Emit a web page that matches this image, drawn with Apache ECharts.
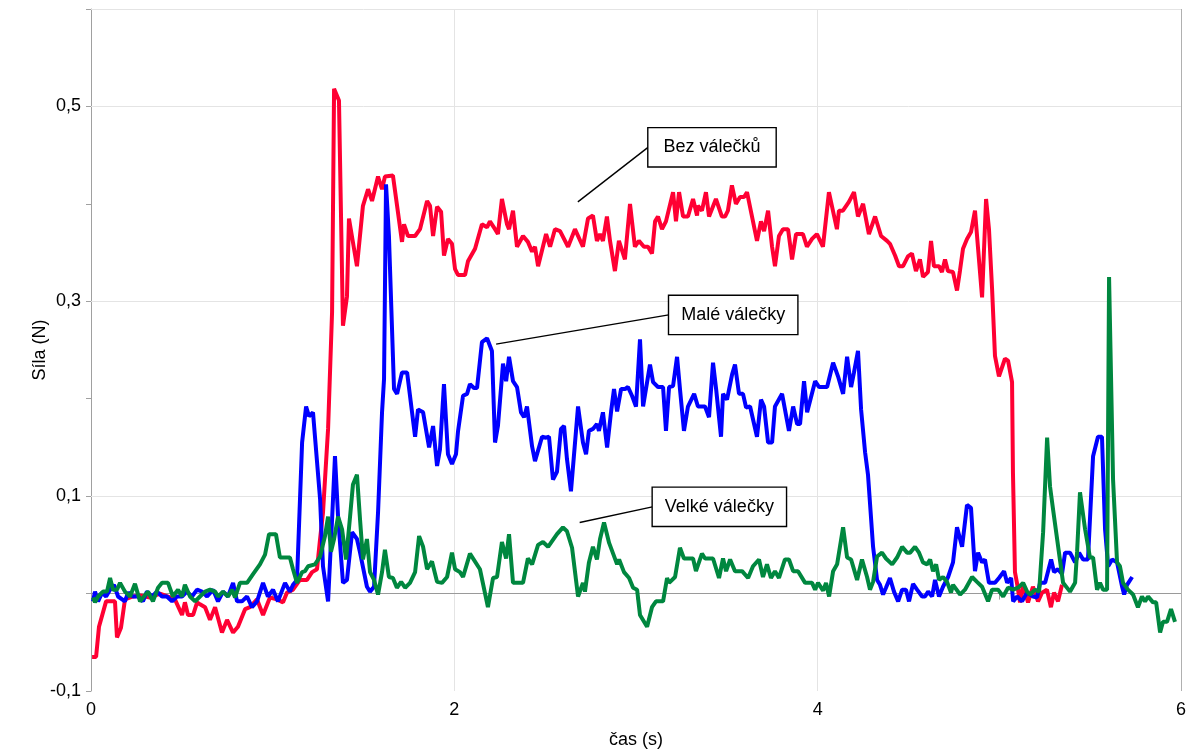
<!DOCTYPE html>
<html>
<head>
<meta charset="utf-8">
<script src="https://cdn.jsdelivr.net/npm/echarts@6/dist/echarts.min.js"></script>
<style>
  html, body { margin: 0; padding: 0; background: #fff; }
  #main { width: 1190px; height: 751px; }
</style>
</head>
<body>
<div id="main"></div>
<script>
// čas (s), síla (N)
var redData = [
  [0.006,-0.065],[0.028,-0.065],[0.044,-0.034],[0.083,-0.008],[0.132,-0.008],[0.143,-0.045],[0.165,-0.035],[0.187,-0.006],
  [0.231,-0.003],[0.270,-0.002],[0.325,-0.004],[0.380,0.000],[0.435,-0.004],[0.462,-0.006],[0.501,-0.022],[0.517,-0.009],
  [0.534,-0.022],[0.562,-0.022],[0.584,-0.009],[0.600,-0.011],[0.628,-0.014],[0.655,-0.027],[0.683,-0.014],[0.721,-0.040],
  [0.749,-0.027],[0.782,-0.040],[0.809,-0.034],[0.848,-0.016],[0.875,-0.014],[0.914,-0.006],[0.947,-0.022],[0.985,-0.004],
  [1.024,-0.006],[1.057,-0.009],[1.079,0.001],[1.112,0.004],[1.150,0.014],[1.189,0.014],[1.217,0.022],[1.244,0.025],
  [1.261,0.056],[1.277,0.083],[1.305,0.169],[1.327,0.289],[1.338,0.518],[1.349,0.520],[1.365,0.506],[1.387,0.275],
  [1.409,0.305],[1.420,0.385],[1.464,0.336],[1.497,0.398],[1.525,0.415],[1.547,0.403],[1.580,0.428],[1.602,0.415],
  [1.618,0.428],[1.662,0.429],[1.712,0.361],[1.723,0.379],[1.745,0.367],[1.784,0.367],[1.811,0.374],[1.850,0.403],
  [1.866,0.398],[1.883,0.367],[1.905,0.397],[1.927,0.392],[1.943,0.347],[1.965,0.364],[1.987,0.359],[2.004,0.333],
  [2.020,0.327],[2.059,0.327],[2.075,0.341],[2.114,0.354],[2.152,0.379],[2.180,0.376],[2.196,0.382],[2.224,0.374],
  [2.240,0.369],[2.262,0.405],[2.290,0.379],[2.301,0.374],[2.323,0.393],[2.345,0.356],[2.378,0.367],[2.405,0.361],
  [2.428,0.351],[2.444,0.356],[2.461,0.336],[2.505,0.369],[2.527,0.356],[2.554,0.374],[2.582,0.372],[2.626,0.356],
  [2.664,0.374],[2.708,0.356],[2.736,0.385],[2.763,0.388],[2.785,0.362],[2.802,0.369],[2.818,0.362],[2.840,0.387],
  [2.857,0.362],[2.884,0.331],[2.906,0.362],[2.939,0.343],[2.967,0.400],[2.994,0.356],[3.016,0.362],[3.044,0.356],
  [3.066,0.356],[3.088,0.349],[3.105,0.382],[3.121,0.387],[3.143,0.374],[3.165,0.382],[3.204,0.412],[3.220,0.382],
  [3.237,0.412],[3.259,0.387],[3.286,0.387],[3.314,0.405],[3.336,0.388],[3.341,0.398],[3.363,0.393],[3.385,0.412],
  [3.402,0.387],[3.440,0.405],[3.473,0.387],[3.490,0.387],[3.506,0.393],[3.528,0.419],[3.550,0.400],[3.573,0.407],
  [3.595,0.407],[3.611,0.412],[3.622,0.412],[3.666,0.362],[3.688,0.382],[3.705,0.372],[3.727,0.393],[3.749,0.356],
  [3.765,0.336],[3.787,0.367],[3.809,0.374],[3.837,0.374],[3.859,0.343],[3.881,0.369],[3.919,0.369],[3.941,0.356],
  [3.969,0.364],[3.996,0.369],[4.029,0.356],[4.062,0.412],[4.106,0.374],[4.117,0.393],[4.139,0.393],[4.172,0.402],
  [4.200,0.412],[4.222,0.387],[4.250,0.400],[4.282,0.369],[4.316,0.387],[4.349,0.367],[4.382,0.362],[4.398,0.359],
  [4.426,0.347],[4.448,0.336],[4.470,0.336],[4.497,0.346],[4.519,0.349],[4.541,0.331],[4.563,0.343],[4.580,0.325],
  [4.607,0.330],[4.624,0.362],[4.640,0.336],[4.668,0.336],[4.684,0.330],[4.701,0.343],[4.717,0.331],[4.745,0.330],
  [4.767,0.311],[4.783,0.331],[4.800,0.354],[4.822,0.364],[4.844,0.371],[4.866,0.393],[4.883,0.354],[4.905,0.304],
  [4.927,0.405],[4.943,0.374],[4.960,0.313],[4.976,0.244],[4.998,0.223],[5.031,0.241],[5.048,0.239],[5.070,0.217],
  [5.075,0.124],[5.086,0.022],[5.097,0.011],[5.114,-0.009],[5.130,0.009],[5.158,-0.009],[5.185,0.007],[5.213,-0.008],
  [5.235,0.001],[5.262,0.004],[5.284,-0.014],[5.301,0.001],[5.323,-0.008],[5.345,0.009]
];

var blueData = [
  [0.011,-0.008],[0.022,0.002],[0.039,-0.008],[0.061,0.001],[0.083,-0.003],[0.105,0.004],[0.127,0.009],[0.149,-0.003],
  [0.187,-0.008],[0.204,0.001],[0.231,-0.003],[0.259,-0.003],[0.286,-0.008],[0.308,0.002],[0.336,-0.003],[0.363,0.002],
  [0.391,-0.003],[0.418,-0.003],[0.446,-0.008],[0.473,-0.003],[0.501,-0.003],[0.528,0.002],[0.556,-0.003],[0.584,0.004],
  [0.611,0.002],[0.639,-0.003],[0.672,0.004],[0.699,-0.008],[0.727,0.002],[0.754,-0.003],[0.782,0.011],[0.804,-0.008],
  [0.831,-0.008],[0.859,-0.003],[0.886,-0.014],[0.914,-0.008],[0.947,0.011],[0.974,-0.003],[1.002,0.004],[1.029,-0.008],
  [1.068,0.011],[1.095,0.002],[1.112,0.009],[1.134,0.014],[1.162,0.155],[1.184,0.192],[1.200,0.182],[1.222,0.186],
  [1.261,0.097],[1.277,0.028],[1.305,-0.008],[1.327,0.076],[1.343,0.141],[1.360,0.079],[1.387,0.011],[1.409,0.014],
  [1.437,0.063],[1.464,0.056],[1.481,0.042],[1.519,0.007],[1.536,0.002],[1.558,0.007],[1.580,0.083],[1.602,0.186],
  [1.613,0.220],[1.624,0.420],[1.640,0.367],[1.668,0.210],[1.685,0.205],[1.712,0.227],[1.740,0.227],[1.784,0.161],
  [1.800,0.189],[1.828,0.186],[1.861,0.150],[1.883,0.172],[1.905,0.131],[1.921,0.148],[1.943,0.215],[1.965,0.143],
  [1.987,0.133],[2.009,0.143],[2.020,0.166],[2.048,0.203],[2.070,0.205],[2.086,0.215],[2.108,0.211],[2.125,0.211],
  [2.152,0.258],[2.180,0.262],[2.207,0.249],[2.224,0.155],[2.240,0.172],[2.268,0.236],[2.285,0.218],[2.301,0.243],
  [2.323,0.218],[2.345,0.212],[2.367,0.186],[2.384,0.181],[2.400,0.192],[2.428,0.151],[2.444,0.136],[2.483,0.161],
  [2.505,0.160],[2.521,0.161],[2.543,0.117],[2.565,0.125],[2.587,0.169],[2.604,0.172],[2.620,0.138],[2.642,0.105],
  [2.653,0.107],[2.681,0.192],[2.708,0.155],[2.725,0.143],[2.741,0.167],[2.763,0.169],[2.785,0.174],[2.796,0.167],
  [2.818,0.186],[2.841,0.150],[2.863,0.187],[2.879,0.210],[2.896,0.187],[2.918,0.210],[2.940,0.210],[2.956,0.212],
  [2.978,0.203],[3.000,0.192],[3.022,0.261],[3.039,0.192],[3.077,0.235],[3.094,0.217],[3.121,0.212],[3.149,0.212],
  [3.165,0.167],[3.182,0.212],[3.204,0.213],[3.226,0.243],[3.242,0.210],[3.264,0.167],[3.286,0.192],[3.320,0.205],
  [3.341,0.192],[3.380,0.192],[3.402,0.181],[3.424,0.237],[3.441,0.210],[3.468,0.161],[3.479,0.205],[3.501,0.199],
  [3.529,0.225],[3.545,0.235],[3.567,0.205],[3.589,0.205],[3.606,0.191],[3.628,0.192],[3.666,0.161],[3.688,0.199],
  [3.705,0.192],[3.727,0.155],[3.749,0.155],[3.765,0.192],[3.776,0.194],[3.804,0.205],[3.842,0.167],[3.865,0.192],
  [3.887,0.174],[3.903,0.174],[3.925,0.218],[3.942,0.186],[3.986,0.218],[4.008,0.212],[4.052,0.212],[4.085,0.237],
  [4.112,0.223],[4.140,0.205],[4.162,0.243],[4.184,0.212],[4.200,0.227],[4.222,0.249],[4.239,0.189],[4.261,0.145],
  [4.277,0.122],[4.305,0.048],[4.327,0.014],[4.343,0.009],[4.360,-0.001],[4.376,0.006],[4.398,0.016],[4.420,0.002],
  [4.443,-0.008],[4.465,0.004],[4.486,0.004],[4.503,-0.008],[4.525,0.010],[4.547,0.004],[4.575,-0.003],[4.591,-0.003],
  [4.608,0.002],[4.630,-0.003],[4.646,0.014],[4.668,-0.003],[4.690,0.007],[4.718,0.017],[4.745,0.032],[4.767,0.068],
  [4.795,0.048],[4.822,0.091],[4.844,0.088],[4.866,0.023],[4.883,0.042],[4.905,0.032],[4.921,0.035],[4.943,0.011],
  [4.976,0.011],[4.998,0.016],[5.026,0.023],[5.043,0.011],[5.065,0.016],[5.076,-0.008],[5.098,-0.003],[5.125,-0.008],
  [5.153,0.001],[5.186,-0.003],[5.208,-0.004],[5.224,0.011],[5.252,0.011],[5.285,0.035],[5.301,0.022],[5.323,0.025],
  [5.345,0.020],[5.362,0.042],[5.389,0.042],[5.417,0.032],[5.439,0.042],[5.461,0.035],[5.488,0.035],[5.516,0.141],
  [5.543,0.161],[5.565,0.161],[5.582,0.066],[5.599,0.028],[5.621,0.035],[5.648,0.032],[5.676,0.007],[5.687,-0.001],
  [5.703,0.009],[5.731,0.017]
];

var greenData = [
  [0.011,-0.004],[0.022,-0.009],[0.039,-0.003],[0.066,0.002],[0.088,0.002],[0.105,0.016],[0.121,0.004],[0.143,0.004],
  [0.160,0.011],[0.187,0.002],[0.215,-0.003],[0.242,0.010],[0.270,-0.008],[0.292,-0.003],[0.314,0.002],[0.341,-0.008],
  [0.369,0.006],[0.391,0.011],[0.424,0.011],[0.451,-0.003],[0.479,0.004],[0.501,-0.003],[0.517,0.009],[0.545,-0.003],
  [0.573,-0.008],[0.600,-0.003],[0.628,0.002],[0.655,0.004],[0.683,0.002],[0.699,-0.003],[0.727,0.002],[0.754,-0.003],
  [0.776,0.004],[0.793,-0.004],[0.820,0.011],[0.859,0.011],[0.892,0.020],[0.930,0.030],[0.958,0.040],[0.980,0.061],
  [1.018,0.061],[1.040,0.037],[1.095,0.037],[1.112,0.025],[1.134,0.011],[1.162,0.022],[1.178,0.023],[1.195,0.028],
  [1.233,0.030],[1.261,0.038],[1.288,0.059],[1.305,0.079],[1.321,0.043],[1.338,0.056],[1.360,0.079],[1.382,0.066],
  [1.404,0.035],[1.426,0.079],[1.442,0.112],[1.464,0.122],[1.481,0.076],[1.497,0.035],[1.519,0.056],[1.536,0.022],
  [1.558,0.014],[1.580,-0.001],[1.602,0.022],[1.618,0.045],[1.640,0.017],[1.662,0.016],[1.684,0.006],[1.707,0.012],
  [1.729,0.006],[1.756,0.011],[1.784,0.022],[1.806,0.059],[1.828,0.048],[1.850,0.025],[1.877,0.033],[1.905,0.012],
  [1.932,0.011],[1.960,0.017],[1.987,0.042],[2.004,0.025],[2.031,0.022],[2.048,0.017],[2.086,0.041],[2.141,0.025],
  [2.185,-0.014],[2.213,0.016],[2.235,0.017],[2.262,0.053],[2.285,0.036],[2.301,0.061],[2.323,0.011],[2.378,0.011],
  [2.405,0.036],[2.428,0.030],[2.461,0.050],[2.488,0.053],[2.516,0.048],[2.565,0.061],[2.598,0.068],[2.620,0.064],
  [2.648,0.047],[2.681,-0.003],[2.708,0.011],[2.719,0.002],[2.741,0.032],[2.763,0.048],[2.785,0.035],[2.802,0.056],
  [2.824,0.073],[2.852,0.052],[2.896,0.030],[2.907,0.035],[2.934,0.022],[2.962,0.016],[2.984,0.006],[3.006,0.004],
  [3.022,-0.022],[3.061,-0.034],[3.088,-0.014],[3.110,-0.008],[3.149,-0.008],[3.171,0.016],[3.182,0.011],[3.215,0.017],
  [3.242,0.047],[3.264,0.036],[3.314,0.036],[3.330,0.023],[3.363,0.041],[3.380,0.036],[3.424,0.036],[3.457,0.016],
  [3.479,0.036],[3.496,0.023],[3.518,0.035],[3.545,0.023],[3.584,0.023],[3.617,0.016],[3.644,0.028],[3.677,0.035],
  [3.699,0.017],[3.721,0.030],[3.743,0.016],[3.765,0.023],[3.787,0.016],[3.820,0.035],[3.842,0.035],[3.865,0.023],
  [3.892,0.023],[3.931,0.011],[3.969,0.011],[3.986,0.004],[4.002,0.011],[4.030,0.003],[4.046,0.011],[4.063,-0.003],
  [4.085,0.023],[4.107,0.030],[4.140,0.068],[4.162,0.037],[4.184,0.035],[4.217,0.014],[4.244,0.035],[4.272,0.017],
  [4.288,0.004],[4.305,0.012],[4.327,0.038],[4.354,0.042],[4.376,0.036],[4.410,0.030],[4.437,0.037],[4.465,0.048],
  [4.492,0.042],[4.509,0.042],[4.536,0.048],[4.558,0.042],[4.580,0.032],[4.602,0.030],[4.619,0.035],[4.635,0.023],
  [4.652,0.030],[4.668,0.014],[4.690,0.017],[4.712,0.012],[4.734,0.001],[4.745,0.009],[4.784,-0.001],[4.811,0.004],
  [4.850,0.017],[4.877,0.012],[4.905,0.007],[4.938,-0.008],[4.960,0.004],[4.993,0.004],[5.021,-0.003],[5.048,0.006],
  [5.076,0.004],[5.103,0.006],[5.131,0.011],[5.153,0.002],[5.169,-0.001],[5.197,0.004],[5.219,0.002],[5.241,0.063],
  [5.263,0.160],[5.279,0.110],[5.296,0.086],[5.351,0.011],[5.389,0.002],[5.417,0.011],[5.428,0.043],[5.444,0.104],
  [5.472,0.066],[5.499,0.037],[5.516,0.037],[5.538,0.004],[5.554,0.011],[5.571,0.004],[5.593,0.004],[5.604,0.325],
  [5.626,0.117],[5.648,0.032],[5.664,0.028],[5.681,0.011],[5.708,0.004],[5.736,-0.001],[5.763,-0.014],[5.785,-0.003],
  [5.802,-0.008],[5.819,-0.003],[5.846,-0.009],[5.863,-0.009],[5.885,-0.040],[5.901,-0.029],[5.923,-0.029],[5.945,-0.016],
  [5.967,-0.029]
];

var seriesNames = ['Bez válečků', 'Malé válečky', 'Velké válečky'];
var seriesColors = ['#ff0033', '#0000ff', '#00873f'];

var gridX = [2, 4];
var gridY = [0.1, 0.3, 0.5];

// annotation boxes: leader line from a point on the curve to the box's left edge
var annoFrom = [[2.68, 0.402], [2.23, 0.256], [2.69, 0.073]];
var annoTo = [[3.066, 0.458], [3.18, 0.286], [3.09, 0.089]];
var annoWidth = [130, 131, 136];

var FONT = '"Liberation Sans", Arial, sans-serif';

var chart = echarts.init(document.getElementById('main'));

var markLines = [];
gridX.forEach(function (x) { markLines.push({ xAxis: x }); });
gridY.forEach(function (y) { markLines.push({ yAxis: y }); });
markLines.push({ yAxis: 0.6 });

var leaderLines = annoFrom.map(function (p, i) {
  return [{ coord: p }, { coord: annoTo[i] }];
});
var boxRich = {};
var boxes = annoTo.map(function (p, i) {
  boxRich['b' + i] = {
    width: annoWidth[i] - 3, align: 'center',
    fontFamily: FONT, fontSize: 18, lineHeight: 20, color: '#000'
  };
  return {
    coord: p,
    value: seriesNames[i],
    label: { formatter: '{b' + i + '|' + seriesNames[i] + '}' }
  };
});

var option = {
  animation: false,
  backgroundColor: '#fff',
  grid: { left: 91, right: 9, top: 9, bottom: 60, containLabel: false, outerBoundsMode: 'none' },
  xAxis: {
    type: 'value', min: 0, max: 6, interval: 1,
    name: 'čas (s)', nameLocation: 'middle', nameGap: 40, nameMoveOverlap: false,
    nameTextStyle: { fontFamily: FONT, fontSize: 18, color: '#000' },
    axisLine: { show: true, lineStyle: { color: '#a0a0a0' } },
    axisTick: { show: true, length: 6, lineStyle: { color: '#a0a0a0' } },
    axisLabel: {
      fontFamily: FONT, fontSize: 18, color: '#000', margin: 10,
      formatter: function (v) { return v % 2 === 0 ? String(v) : ''; }
    },
    splitLine: { show: false }
  },
  yAxis: {
    type: 'value', min: -0.1, max: 0.6, interval: 0.1,
    name: 'Síla (N)', nameLocation: 'middle', nameGap: 42, nameMoveOverlap: false,
    nameTextStyle: { fontFamily: FONT, fontSize: 18, color: '#000' },
    axisLine: { show: true, lineStyle: { color: '#a0a0a0' } },
    axisTick: { show: true, length: 5, lineStyle: { color: '#a0a0a0' } },
    axisLabel: {
      fontFamily: FONT, fontSize: 18, color: '#000', margin: 10,
      formatter: function (v) {
        var k = Math.round(v * 10);
        if (k % 2 === 0 || k >= 6) return '';
        return v.toFixed(1).replace('.', ',');
      }
    },
    splitLine: { show: false }
  },
  series: [
    {
      // grid lines, zero line, right border
      type: 'line', data: [], silent: true,
      markLine: {
        silent: true, symbol: 'none', z: 1, label: { show: false },
        lineStyle: { color: '#e4e4e4', width: 1, type: 'solid' },
        data: markLines.concat([
          { yAxis: 0, lineStyle: { color: '#9a9a9a', width: 1, type: 'solid' } },
          { xAxis: 6, lineStyle: { color: '#b0b0b0', width: 1, type: 'solid' } }
        ])
      }
    },
    {
      name: seriesNames[0], type: 'line', data: redData, showSymbol: false, symbol: 'none',
      lineStyle: { color: seriesColors[0], width: 4 }, z: 2
    },
    {
      name: seriesNames[1], type: 'line', data: blueData, showSymbol: false, symbol: 'none',
      lineStyle: { color: seriesColors[1], width: 4 }, z: 3
    },
    {
      name: seriesNames[2], type: 'line', data: greenData, showSymbol: false, symbol: 'none',
      lineStyle: { color: seriesColors[2], width: 4 }, z: 4
    },
    {
      // annotations
      type: 'line', data: [], silent: true, z: 10,
      markLine: {
        silent: true, symbol: 'none', z: 10, label: { show: false },
        lineStyle: { color: '#000', width: 1.4, type: 'solid' },
        data: leaderLines
      },
      markPoint: {
        silent: true, z: 11, symbol: 'circle', symbolSize: 1,
        itemStyle: { color: 'rgba(0,0,0,0)' },
        label: {
          show: true, position: 'right', distance: 0,
          align: 'left', verticalAlign: 'middle',
          backgroundColor: '#fff', borderColor: '#000', borderWidth: 1.4,
          padding: [9, 0, 9, 0],
          rich: boxRich
        },
        data: boxes
      }
    }
  ]
};

chart.setOption(option);
</script>
</body>
</html>
